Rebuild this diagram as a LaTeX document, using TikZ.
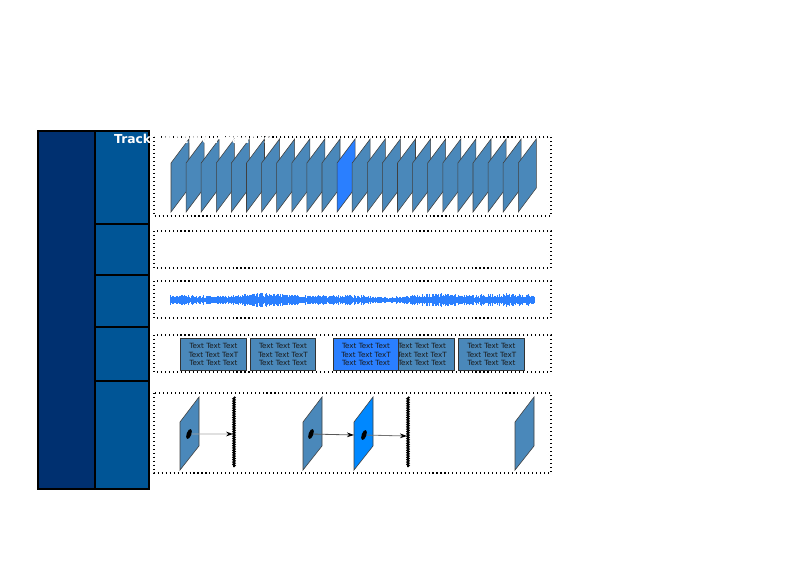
\documentclass[tikz,border=0pt]{standalone}
\usepackage{fontspec}
\setsansfont{DejaVu Sans}
\usetikzlibrary{shapes.geometric,arrows.meta,decorations.pathmorphing}
\definecolor{navy}{RGB}{0,48,112}
\definecolor{cellblue}{RGB}{0,85,150}
\definecolor{steel}{RGB}{74,136,186}
\definecolor{brightblue}{RGB}{42,127,255}
\definecolor{skyblue}{RGB}{0,136,255}
\tikzset{
  trackbox/.style={draw=black, line width=0.9pt, dash pattern=on 0.9pt off 2.5pt},
  frame/.style={fill=steel, draw=black!75, line width=0.5pt},
  textblock/.style={fill=steel, draw=black!80, line width=0.7pt, minimum width=56pt,
    minimum height=28pt, inner sep=0pt, align=center,
    font=\sffamily\fontsize{6.1}{7.1}\selectfont, text=black!90},
  blob/.style={ellipse, fill=black, minimum width=4pt, minimum height=9pt, inner sep=0pt, rotate=-20},
  ray/.style={-{Stealth[black,length=6pt,width=4pt]}, line width=0.7pt},
  plate/.style={line width=1.5pt, decorate, decoration={zigzag, segment length=2pt, amplitude=0.6pt}}
}
\begin{document}
\begin{tikzpicture}[x=0.3mm, y=-0.3mm]
  \useasboundingbox (0,0) rectangle (800,566);
  % container with its header cells
  \fill[navy] (38,131) rectangle (95,489);
  \fill[cellblue] (95,131) rectangle (149,489);
  \foreach \yy in {224,275,327,381}
    \draw[line width=1.3pt] (95,\yy) -- (149,\yy);
  \draw[line width=1.3pt] (95,131) -- (95,489);
  \draw[line width=2.5pt] (38,131) rectangle (149,489);
  % one dotted box per track
  \foreach \ytop/\ybot in {137/216,231/268,281/318,335/372,393/473}
    \draw[trackbox] (154,\ytop) rectangle (551,\ybot);
  % video frames, the 12th one selected
  \foreach \idx in {0,...,23} {
    \pgfmathsetmacro{\xl}{171+\idx*15.1}
    \ifnum\idx=11\relax \def\fc{brightblue}\else \def\fc{steel}\fi
    \draw[frame, fill=\fc] (\xl,212) -- (\xl,163) -- ++(18,-24) -- ++(0,49) -- cycle;
  }
  % audio waveform
  \pgfmathsetseed{11}
  \foreach \xx in {170,170.7,...,534} {
    \pgfmathsetmacro{\amp}{(4.4+0.9*sin(\xx*1.7)+0.8*sin(\xx*4.3+30))*(0.5+0.7*rnd)}
    \draw[brightblue, line width=0.6pt] ({\xx},{300-\amp}) -- ({\xx},{300+\amp});
  }
  % subtitle blocks
  \node[textblock] (txtA) at (213.5,354.5) {Text Text Text\\Text Text TexT\\Text Text Text};
  \node[textblock] (txtB) at (283,354.5) {Text Text Text\\Text Text TexT\\Text Text Text};
  \node[textblock] (txtD) at (422,354.5) {Text Text Text\\Text Text TexT\\Text Text Text};
  \node[textblock] (txtE) at (491.5,354.5) {Text Text Text\\Text Text TexT\\Text Text Text};
  \node[textblock, fill=brightblue] (txtC) at (366,354.5) {Text Text Text\\Text Text TexT\\Text Text Text};
  % frames with a tracked object
  \foreach \xl/\fc in {180/steel, 303/steel, 354/skyblue, 515/steel}
    \draw[frame, fill=\fc] (\xl,470) -- (\xl,422) -- ++(19,-25) -- ++(0,49) -- cycle;
  \draw[plate] (234,397) -- (234,467);
  \draw[plate] (408,397) -- (408,467);
  \node[blob] (objA) at (189,434) {};
  \node[blob] (objB) at (311,434) {};
  \node[blob] (objC) at (364,435) {};
  \coordinate (hitA) at (233,434);
  \coordinate (hitB) at (354,435);
  \coordinate (hitC) at (407,436);
  \draw[ray, draw=black!35] (objA) -- (hitA);
  \draw[ray, draw=black!65] (objB) -- (hitB);
  \draw[ray, draw=black!55] (objC) -- (hitC);
  \node[anchor=base west, inner sep=0pt, text=white,
    font=\sffamily\bfseries\fontsize{10.5}{12}\selectfont] (title) at (114,143) {Track Specific Headers};
\end{tikzpicture}
\end{document}
